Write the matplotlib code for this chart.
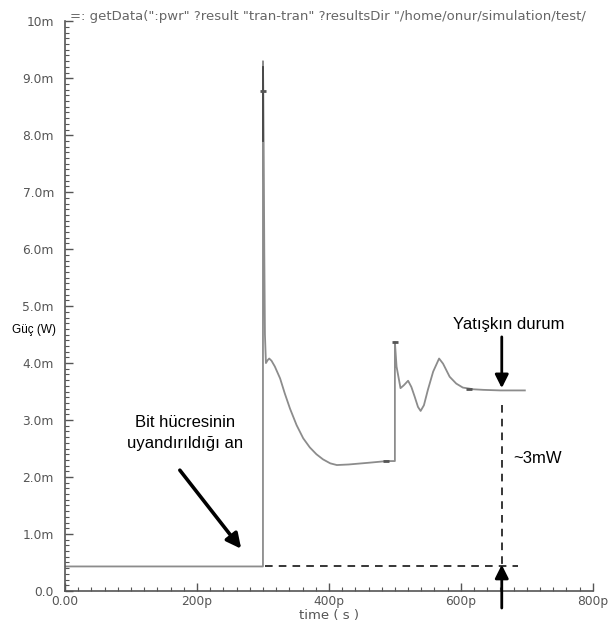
import matplotlib.pyplot as plt
import numpy as np
from matplotlib.ticker import MultipleLocator, FuncFormatter

# transient power trace (time in ps, power in mW)
time_ps = [0, 300, 300, 300.5, 301, 302, 303, 304.5, 307, 309.5, 313, 318, 326, 333, 341, 351,
           361, 371, 381, 391, 402, 412, 430, 460, 488, 500, 500, 502.5, 508.5, 513.5, 520,
           525, 530, 535, 539, 544, 550, 558, 567, 573, 583, 593, 603, 619, 634, 660, 697]
power_mw = [0.43, 0.43, 9.3, 8.78, 8.0, 6.0, 4.5, 4.0, 4.05, 4.08, 4.04, 3.94, 3.73, 3.47, 3.20, 2.91,
            2.68, 2.52, 2.40, 2.31, 2.24, 2.21, 2.22, 2.25, 2.28, 2.28, 4.37, 3.94, 3.56, 3.61, 3.69,
            3.58, 3.41, 3.23, 3.16, 3.26, 3.53, 3.85, 4.08, 3.99, 3.76, 3.64, 3.57, 3.54, 3.53, 3.52, 3.52]

steady_mw = 3.52
base_mw = 0.43
marker_t = [300, 500, 487, 612]
marker_p = [8.78, 4.37, 2.28, 3.545]

title_text = '=: getData(":pwr" ?result "tran-tran" ?resultsDir "/home/onur/simulation/test/'

AX_COL = "#555555"
LINE_COL = "#8c8c8c"


def y_label(v, pos):
    if v == 0:
        return "0.0"
    if v >= 10:
        return "%dm" % v
    return "%.1fm" % v


def x_label(v, pos):
    if v == 0:
        return "0.00"
    return "%dp" % v


fig = plt.figure(figsize=(6.08, 6.26), dpi=100)
ax = fig.add_axes([0.107, 0.056, 0.868, 0.910])

ax.plot(time_ps, power_mw, color=LINE_COL, lw=1.3, solid_joinstyle="round")
ax.plot([300, 300], [7.9, 9.2], color="#444444", lw=1.3)
ax.plot(marker_t, marker_p, ls="none", marker="_", ms=5, mew=2, color="#555555")

ax.set_xlim(0, 800)
ax.set_ylim(0, 10)
for s in ("top", "right"):
    ax.spines[s].set_visible(False)
for s in ("left", "bottom"):
    ax.spines[s].set_color(AX_COL)
    ax.spines[s].set_linewidth(1.2)

ax.xaxis.set_major_locator(MultipleLocator(200))
ax.xaxis.set_minor_locator(MultipleLocator(20))
ax.yaxis.set_major_locator(MultipleLocator(1))
ax.yaxis.set_minor_locator(MultipleLocator(0.1))
ax.xaxis.set_major_formatter(FuncFormatter(x_label))
ax.yaxis.set_major_formatter(FuncFormatter(y_label))
ax.tick_params(which="both", direction="in", color=AX_COL, labelcolor="#555555",
               labelsize=8.8)
ax.tick_params(which="major", length=6, width=1.0)
ax.tick_params(which="minor", length=3, width=0.8)
ax.tick_params(axis="x", pad=3)
ax.tick_params(axis="y", pad=8)
ax.set_xlabel("time ( s )", color="#555555", fontsize=9.5, labelpad=1)

fig.text(0.115, 0.974, title_text, color="#666666", fontsize=9.5, ha="left", va="center")
fig.text(0.056, 0.473, "Güç (W)", fontsize=8.5, family="Liberation Sans", ha="center", va="center")

# annotations
dash = dict(color="black", lw=1.1, ls=(0, (5, 4)))
ax.plot([303, 686], [base_mw, base_mw], **dash)
ax.plot([662, 662], [3.26, base_mw], **dash)

arrow = dict(arrowstyle="-|>", color="black", lw=2, mutation_scale=20, shrinkA=0, shrinkB=0)
ax.annotate("", xy=(662, steady_mw + 0.04), xytext=(662, 4.46), arrowprops=arrow)
ax.annotate("", xy=(662, base_mw + 0.03), xytext=(662, -0.3), arrowprops=arrow,
            annotation_clip=False)
ax.annotate("", xy=(267, 0.74), xytext=(174, 2.12),
            arrowprops=dict(arrow, lw=2.6, mutation_scale=22))

txt = dict(family="Liberation Sans", fontsize=12, color="black")
ax.text(672, 4.68, "Yatışkın durum", ha="center", va="center", **txt)
ax.text(182, 2.77, "Bit hücresinin\nuyandırıldığı an", ha="center", va="center",
        linespacing=1.55, **txt)
ax.text(679, 2.33, "~3mW", ha="left", va="center", **txt)

fig.savefig("out.png", dpi=100)
